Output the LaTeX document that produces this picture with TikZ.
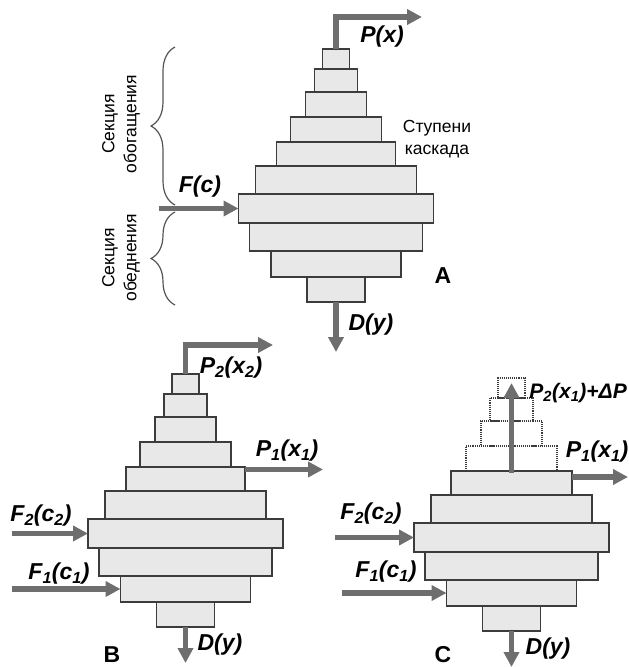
\documentclass[tikz,border=0pt]{standalone}
\usepackage{fontspec}
\setmainfont{Liberation Sans}
\usetikzlibrary{arrows.meta,decorations.pathreplacing}

\definecolor{StageFill}{RGB}{232,232,232}
\definecolor{StageLine}{RGB}{60,60,60}
\definecolor{FlowGrey}{RGB}{110,110,110}
\definecolor{BraceGrey}{RGB}{85,85,85}

\begin{document}
\begin{tikzpicture}[x=1pt, y=-1pt,
    stage/.style={draw=StageLine, fill=StageFill, line width=1.3pt, inner sep=0pt, outer sep=0pt},
    ghost/.style={draw=StageLine, densely dotted, line width=1.1pt, inner sep=0pt, outer sep=0pt},
    flow/.style={draw=FlowGrey, line width=5.5pt, -{Triangle[length=15pt,width=15pt]}},
    brace/.style={draw=BraceGrey, line width=1.2pt, decorate, decoration={brace, amplitude=24pt}},
    lbl/.style={font=\fontsize{23}{26}\selectfont\bfseries\itshape, inner sep=1pt},
    note/.style={font=\fontsize{17.5}{22}\selectfont, align=center, inner sep=0pt},
    tag/.style={font=\fontsize{23}{26}\selectfont\bfseries, inner sep=0pt}]

\useasboundingbox (0,0) rectangle (629,667);

% Cascades A and B
\foreach \cas/\dx/\dy in {A/0/0, B/-150.5/325}{
  \foreach \i/\w/\t/\b in {1/27/49/69, 2/43/69/92, 3/61/92/117, 4/91/117/142, 5/119/142/166,
                           6/161/166/194, 7/195/194/223, 8/173/223/251, 9/130/251/277, 10/58/277/302}
    \node[stage, minimum width=\w, minimum height=\b-\t] (\cas\i) at ({336+\dx},{(\t+\b)/2+\dy}) {};
}

% Cascade C (upper stages removed)
\foreach \i/\w/\t/\b in {1/27/49/69, 2/43/69/92, 3/61/92/117, 4/91/117/142}
  \node[ghost, minimum width=\w, minimum height=\b-\t] (C\i) at (511.5,{(\t+\b)/2+329}) {};
\foreach \i/\w/\t/\b in {5/121/142/166, 6/161/166/194, 7/195/194/223, 8/173/223/251, 9/130/251/277, 10/58/277/302}
  \node[stage, minimum width=\w, minimum height=\b-\t] (C\i) at (511.5,{(\t+\b)/2+329}) {};

% A: flows
\coordinate (pA) at (422,17);
\coordinate (dA) at (336,352);
\coordinate (fA) at (159,208.5);
\draw[flow] (A1.north) |- (pA);
\draw[flow] (A10.south) -- (dA);
\draw[flow] (fA) -- (A7.west);
\node[lbl] (lPA) at (382,37) {P(x)};
\node[lbl] (lDA) at (371,325) {D(y)};
\node[lbl] (lFA) at (200,187) {F(c)};
\node[note] (steps) at (437,139) {Ступени\\каскада};
\node[tag] (tA) at (443,276) {A};

% A: sections
\coordinate (eTop) at (175,47);
\coordinate (eBot) at (175,205);
\coordinate (sTop) at (175,212);
\coordinate (sBot) at (175,305);
\draw[brace] (eBot) -- (eTop);
\draw[brace] (sBot) -- (sTop);
\node[note, rotate=90] (enrich) at (121,124) {Секция\\обогащения};
\node[note, rotate=90] (strip) at (121,258) {Секция\\обеднения};

% B: flows
\coordinate (pB2) at (273,345);
\coordinate (pB1) at (323,469.5);
\coordinate (fB2) at (12,533.5);
\coordinate (fB1) at (12,589);
\coordinate (dB) at (185.5,663);
\draw[flow] (B1.north) |- (pB2);
\draw[flow] ([yshift=-2.5pt]B5.north east) -- (pB1);
\draw[flow] (fB2) -- (B7.west);
\draw[flow] (fB1) -- (B9.west);
\draw[flow] (B10.south) -- (dB);
\node[lbl] (lP2B) at (231,368) {P\textsubscript{2}(x\textsubscript{2})};
\node[lbl] (lP1B) at (287,451) {P\textsubscript{1}(x\textsubscript{1})};
\node[lbl] (lF2B) at (41,516) {F\textsubscript{2}(c\textsubscript{2})};
\node[lbl] (lF1B) at (59,574) {F\textsubscript{1}(c\textsubscript{1})};
\node[lbl] (lDB) at (220,645) {D(y)};
\node[tag] (tB) at (112,655) {B};

% C: flows
\coordinate (pC2) at (511.5,383);
\coordinate (pC1) at (628,477);
\coordinate (fC2) at (335,537.5);
\coordinate (fC1) at (342,593);
\coordinate (dC) at (511.5,667);
\draw[flow] ([yshift=-2pt]C5.north) -- (pC2);
\draw[flow] ([yshift=-6pt]C5.north east) -- (pC1);
\draw[flow] (fC2) -- (C7.west);
\draw[flow] (fC1) -- (C9.west);
\draw[flow] (C10.south) -- (dC);
\node[lbl, anchor=east, font=\fontsize{21}{24}\selectfont\bfseries\itshape] (lP2C) at (628,393) {P\textsubscript{2}(x\textsubscript{1})+ΔP};
\node[lbl] (lP1C) at (597,452) {P\textsubscript{1}(x\textsubscript{1})};
\node[lbl] (lF2C) at (371,514) {F\textsubscript{2}(c\textsubscript{2})};
\node[lbl] (lF1C) at (386,572) {F\textsubscript{1}(c\textsubscript{1})};
\node[lbl] (lDC) at (548,649) {D(y)};
\node[tag] (tC) at (443,655) {C};
\end{tikzpicture}
\end{document}
